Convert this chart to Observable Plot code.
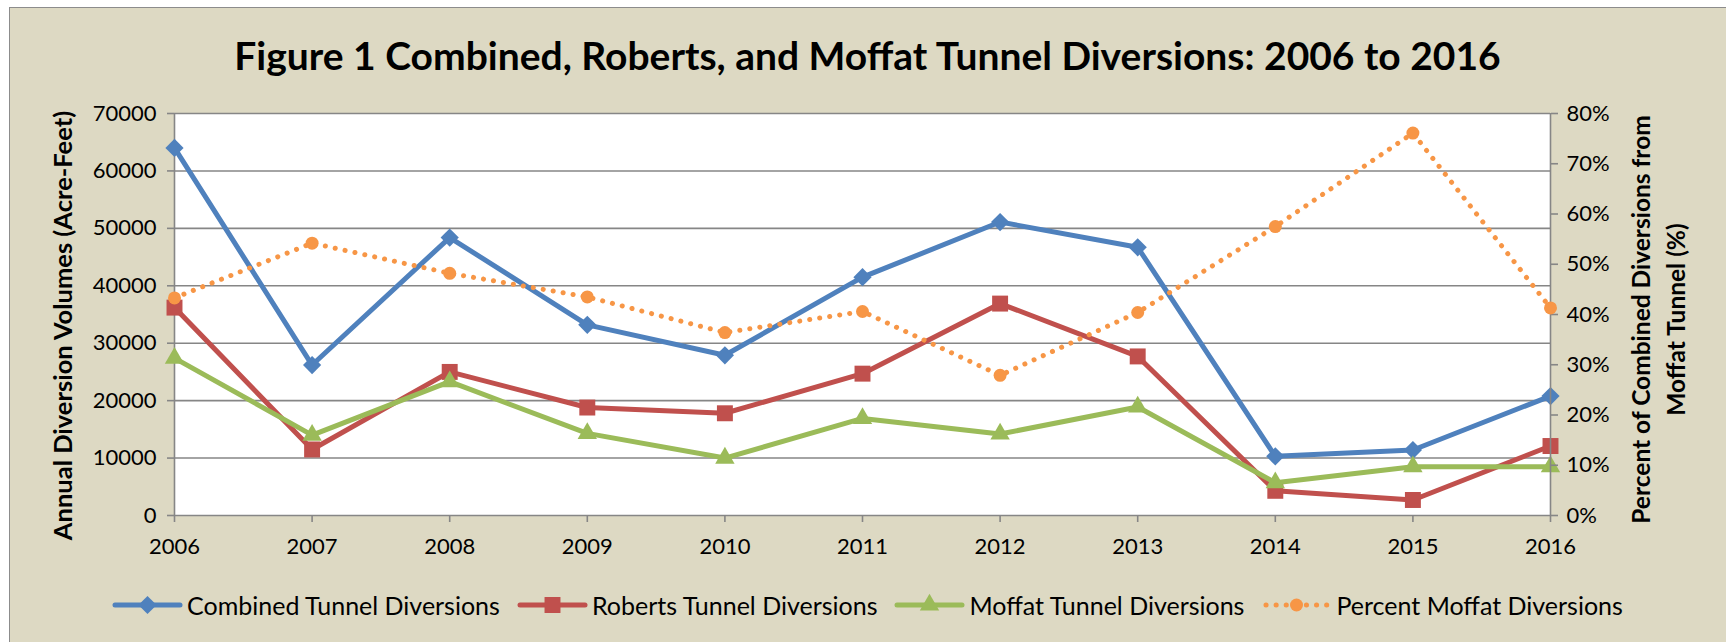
<!DOCTYPE html>
<html>
<head>
<meta charset="utf-8">
<script src="https://cdn.jsdelivr.net/npm/d3@7"></script>
<script src="https://cdn.jsdelivr.net/npm/@observablehq/plot@0.6"></script>
<style>
html, body { margin: 0; padding: 0; background: #fff; }
#wrap { position: relative; width: 1726px; height: 642px; overflow: hidden; font-family: Lato, "Open Sans", sans-serif; }
#bg { position: absolute; left: 9px; top: 7px; width: 1740px; height: 660px; background: #DDD9C3; border: 1.5px solid #8c8c8c; box-sizing: border-box; }
#title { position: absolute; left: 9px; width: 1717px; top: 31px; text-align: center; font-weight: bold; font-size: 39px; line-height: 48px; color: #000; white-space: nowrap; }
.plot { position: absolute; left: 0; top: 0; }
#legend { position: absolute; left: 9px; width: 1717px; top: 590px; display: flex; justify-content: center; align-items: center; gap: 17px; font-size: 25px; color: #000; }
.item { display: flex; align-items: center; gap: 4px; white-space: nowrap; }
.item svg { display: block; }
</style>
</head>
<body>
<div id="wrap">
  <div id="bg"></div>
  <div id="title"></div>
  <div id="legend"></div>
</div>
<script>
// ---- data ----
const years = [2006, 2007, 2008, 2009, 2010, 2011, 2012, 2013, 2014, 2015, 2016];
const combined = [64000, 26200, 48400, 33200, 27900, 41500, 51100, 46700, 10300, 11400, 20800];
const roberts  = [36200, 11500, 25000, 18800, 17800, 24700, 36900, 27700, 4300, 2700, 12100];
const moffat   = [27400, 14000, 23300, 14300, 10000, 16900, 14200, 18900, 5700, 8500, 8500];
const percent  = [0.433, 0.542, 0.482, 0.435, 0.364, 0.406, 0.279, 0.404, 0.575, 0.761, 0.413];
const volumeTicks  = [0, 10000, 20000, 30000, 40000, 50000, 60000, 70000];
const percentTicks = [0, 0.1, 0.2, 0.3, 0.4, 0.5, 0.6, 0.7, 0.8];
const seriesNames = ["Combined Tunnel Diversions", "Roberts Tunnel Diversions", "Moffat Tunnel Diversions", "Percent Moffat Diversions"];
const titleText = "Figure 1 Combined, Roberts, and Moffat Tunnel Diversions: 2006 to 2016";
const yTitle = "Annual Diversion Volumes (Acre-Feet)";
const y2Title = "Percent of Combined Diversions from\nMoffat Tunnel (%)";

// ---- styles ----
const colors = ["#4F81BD", "#C0504D", "#9BBB59", "#F79646"];
const gridColor = "#868686";
const FONT = "Lato, 'Open Sans', sans-serif";

const rows = years.map((yr, i) => ({year: yr, combined: combined[i], roberts: roberts[i], moffat: moffat[i], percent: percent[i]}));

const W = 1726, H = 585;
const common = {
  width: W, height: H,
  marginTop: 113, marginBottom: H - 515, marginLeft: 174, marginRight: 176,
  style: {background: "transparent", fontFamily: FONT, fontSize: "22px", color: "#000", overflow: "visible"},
  x: {domain: [2006, 2016], axis: null}
};

const volKeys = ["combined", "roberts", "moffat"];
const symbols = ["diamond2", "square", "triangle"];
const symR = [8.2, 9, 7.2];

const p1 = Plot.plot({
  ...common,
  y: {domain: [0, 70000], axis: null},
  marks: [
    Plot.frame({fill: "white", stroke: "none"}),
    Plot.gridY(volumeTicks.slice(1), {stroke: gridColor, strokeOpacity: 1, strokeWidth: 1.6}),
    Plot.ruleX([2006], {stroke: gridColor, strokeWidth: 1.6}),
    Plot.ruleY([0], {stroke: gridColor, strokeWidth: 1.6}),
    Plot.axisY(volumeTicks, {tickSize: 7, tickPadding: 11, tickFormat: d3.format("d"), stroke: gridColor, strokeWidth: 1.6, fill: "#000", label: null, fontSize: 22}),
    Plot.axisX(years, {tickSize: 7, tickPadding: 16, tickFormat: d3.format("d"), stroke: gridColor, strokeWidth: 1.6, fill: "#000", label: null, fontSize: 22}),
    ...volKeys.flatMap((k, i) => [
      Plot.line(rows, {x: "year", y: k, stroke: colors[i], strokeWidth: 5, strokeLinejoin: "round", strokeLinecap: "round"}),
      Plot.dot(rows, {x: "year", y: k, symbol: symbols[i], r: symR[i], fill: colors[i], stroke: "none"})
    ]),
    Plot.text([yTitle], {frameAnchor: "left", dx: -111, dy: 11, rotate: -90, textAnchor: "middle", fontWeight: "bold", fontSize: 25.5, fill: "#000"})
  ]
});
p1.classList.add("plot");

const p2 = Plot.plot({
  ...common,
  y: {domain: [0, 0.8], axis: null},
  marks: [
    Plot.ruleX([2016], {stroke: gridColor, strokeWidth: 1.6}),
    Plot.axisY(percentTicks, {anchor: "right", tickSize: 7, tickPadding: 9, tickFormat: d3.format(".0%"), stroke: gridColor, strokeWidth: 1.6, fill: "#000", label: null, fontSize: 22}),
    Plot.line(rows, {x: "year", y: "percent", stroke: colors[3], strokeWidth: 5, strokeDasharray: "0.1 10", strokeLinecap: "round"}),
    Plot.dot(rows, {x: "year", y: "percent", r: 6.5, fill: colors[3], stroke: "none"}),
    Plot.text([y2Title], {frameAnchor: "right", dx: 106, dy: 5, rotate: -90, textAnchor: "middle", lineAnchor: "middle", lineHeight: 1.4, fontWeight: "bold", fontSize: 24.5, fill: "#000"})
  ]
});
p2.classList.add("plot");

const wrap = document.getElementById("wrap");
wrap.insertBefore(p1, document.getElementById("legend"));
wrap.insertBefore(p2, document.getElementById("legend"));
document.getElementById("title").textContent = titleText;

// ---- legend ----
const legend = d3.select("#legend");
const d3sym = [d3.symbolDiamond2, d3.symbolSquare, d3.symbolTriangle, d3.symbolCircle];
seriesNames.forEach((name, i) => {
  const it = legend.append("div").attr("class", "item");
  const svg = it.append("svg").attr("width", 71).attr("height", 24);
  const line = svg.append("line").attr("x1", 3).attr("x2", 68).attr("y1", 12).attr("y2", 12)
    .attr("stroke", colors[i]).attr("stroke-width", 5).attr("stroke-linecap", "round");
  if (i === 3) line.attr("stroke-dasharray", "0.1 10").attr("x1", 5).attr("x2", 66);
  const rr = i === 3 ? 6.5 : symR[i];
  svg.append("path").attr("transform", "translate(35.5,12)")
    .attr("d", d3.symbol(d3sym[i], Math.PI * rr * rr)()).attr("fill", colors[i]);
  it.append("span").text(name);
});
</script>
</body>
</html>
